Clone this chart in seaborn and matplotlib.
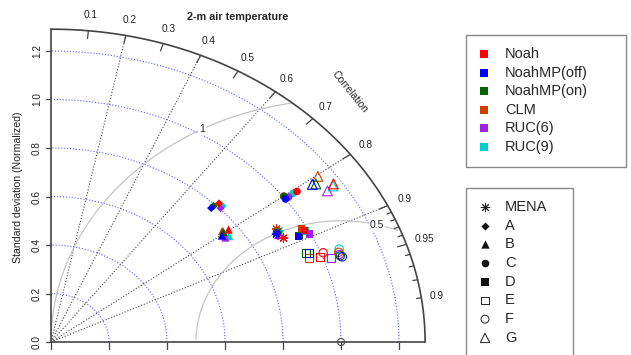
import numpy as np
import pandas as pd
import matplotlib
matplotlib.use("Agg")
import matplotlib.pyplot as plt
import seaborn as sns
from matplotlib.patches import Rectangle

# --- data: normalized standard deviation and correlation per model ---
models = ["Noah", "NoahMP(off)", "NoahMP(on)", "CLM", "RUC(6)", "RUC(9)"]
model_colors = ["#FF0000", "#0000FF", "#006400", "#CC4000", "#A020F0", "#00CDCD"]
regions = ["MENA", "A", "B", "C", "D", "E", "F", "G"]

mena_sd = [0.909, 0.896, 0.903, 0.907, 0.898, 0.910]
mena_r = [0.882, 0.868, 0.865, 0.858, 0.872, 0.864]
a_sd = [0.814, 0.781, 0.793, 0.790, 0.804, 0.815]
a_r = [0.712, 0.707, 0.707, 0.707, 0.727, 0.726]
b_sd = [0.768, 0.735, 0.748, 0.747, 0.740, 0.754]
b_r = [0.797, 0.802, 0.795, 0.790, 0.813, 0.815]
c_sd = [1.051, 1.001, 1.003, 1.003, 1.014, 1.035]
c_r = [0.807, 0.808, 0.801, 0.800, 0.808, 0.806]
d_sd = [0.988, 0.958, 0.961, 0.982, 0.997, 0.988]
d_r = [0.885, 0.891, 0.890, 0.880, 0.895, 0.886]
e_sd = [0.992, 0.963, 0.951, 0.954, 1.027, 0.992]
e_r = [0.935, 0.924, 0.923, 0.931, 0.941, 0.935]
f_sd = [1.008, 1.064, 1.059, 1.059, 1.058, 1.065]
f_r = [0.931, 0.944, 0.942, 0.937, 0.940, 0.933]
g_sd = [1.172, 1.111, 1.122, 1.146, 1.139, 1.166]
g_r = [0.831, 0.811, 0.814, 0.803, 0.837, 0.834]

sd_ticks = [0.0, 0.2, 0.4, 0.6, 0.8, 1.0, 1.2]
cor_lines = [0.2, 0.4, 0.6, 0.8, 0.9]
cor_labels = [0.1, 0.2, 0.3, 0.4, 0.5, 0.6, 0.7, 0.8, 0.9, 0.95, 0.99]
rms_levels = [0.5, 1.0]
ref_sd = 1.0
max_sd = 1.29

region_sd = [mena_sd, a_sd, b_sd, c_sd, d_sd, e_sd, f_sd, g_sd]
region_r = [mena_r, a_r, b_r, c_r, d_r, e_r, f_r, g_r]

rows = []
for reg, sds, rs in zip(regions, region_sd, region_r):
    for m, s, r in zip(models, sds, rs):
        rows.append({"region": reg, "model": m, "sd": s, "cor": r})
df = pd.DataFrame(rows)
df["x"] = df["sd"] * df["cor"]
df["y"] = df["sd"] * np.sqrt(1 - df["cor"] ** 2)

# marker, size, open?
region_style = {
    "MENA": ((8, 2, 0), 38, False),
    "A": ("D", 17, False),
    "B": ("^", 36, False),
    "C": ("o", 30, False),
    "D": ("s", 28, False),
    "E": ("s", 34, True),
    "F": ("o", 36, True),
    "G": ("^", 50, True),
}

sns.set_style("white")
plt.rcParams["font.family"] = ["Liberation Sans", "DejaVu Sans"]

fig = plt.figure(figsize=(6.31, 3.55), dpi=100)
ax = fig.add_axes([20 / 631, 0, 423 / 631, 1])
ax.set_xlim(-0.1069, 1.3517)
ax.set_ylim(-0.0536, 1.4103)
ax.axis("off")

axis_col = "#444444"
text_col = "#222222"

# standard deviation arcs
t = np.linspace(0, np.pi / 2, 200)
for s in sd_ticks[1:]:
    ax.plot(s * np.cos(t), s * np.sin(t), color="#4040ff", ls=":", lw=0.8, alpha=0.85)

# correlation rays
for r in cor_lines:
    ax.plot([0, max_sd * r], [0, max_sd * np.sqrt(1 - r ** 2)], color="#444444", ls=":", lw=0.8)

# centered RMS arcs (plotrix style)
tt = np.arange(0, np.pi, 0.03)
label_idx = [44, 69]
for g, li in zip(rms_levels, label_idx):
    xc = np.cos(tt) * g + ref_sd
    yc = np.sin(tt) * g
    ok = (xc ** 2 + yc ** 2 <= max_sd ** 2) & (xc >= 0)
    ax.plot(xc[ok], yc[ok], color="#c4c4c4", lw=0.9)
    ax.text(xc[li], yc[li], f"{g:g}", fontsize=7.5, ha="center", va="center", color=text_col,
            bbox=dict(boxstyle="square,pad=0.1", fc="white", ec="none"))

# outer arc and axes
ax.plot(max_sd * np.cos(t), max_sd * np.sin(t), color=axis_col, lw=1.2)
ax.plot([0, 0], [0, max_sd], color=axis_col, lw=1.2)
ax.plot([0, max_sd], [0, 0], color=axis_col, lw=1.2)

# correlation ticks
major = [0.1, 0.2, 0.3, 0.4, 0.5, 0.6, 0.7, 0.8, 0.9, 0.95]
minor = [0.91, 0.92, 0.93, 0.94, 0.96, 0.97, 0.98, 0.99]
for r, k in [(m, 0.975) for m in major] + [(m, 0.987) for m in minor]:
    c, s = r, np.sqrt(1 - r ** 2)
    ax.plot([max_sd * c, k * max_sd * c], [max_sd * s, k * max_sd * s], color=axis_col, lw=0.9)
for r in cor_labels:
    ax.text(1.05 * max_sd * r, 1.05 * max_sd * np.sqrt(1 - r ** 2), f"{r:g}",
            fontsize=7.3, ha="center", va="center", color=text_col, clip_on=True)
ax.text(0.8 * max_sd, 0.8 * max_sd, "Correlation", rotation=-51, fontsize=7.5,
        ha="center", va="center", rotation_mode="anchor", color=text_col)

# sd axis ticks and labels
for v in sd_ticks:
    ax.plot([0, -0.017], [v, v], color=axis_col, lw=0.9)
    ax.text(-0.049, v, f"{v:.1f}", rotation=90, fontsize=7.2, ha="center", va="center", color=text_col)
    ax.plot([v, v], [0, -0.029], color=axis_col, lw=0.9)

# reference point
ax.scatter([ref_sd], [0], marker="o", facecolors="none", edgecolors="#444444", s=26, lw=0.8, zorder=5)

# model points, drawn last model first so Noah sits on top
palette = dict(zip(models, model_colors))
for reg in regions:
    marker, size, hollow = region_style[reg]
    sub = df[df["region"] == reg].iloc[::-1]
    sns.scatterplot(data=sub, x="x", y="y", hue="model", hue_order=models, palette=palette,
                    marker=marker, s=size, linewidth=0, legend=False, ax=ax, zorder=4)
    coll = ax.collections[-1]
    fc = coll.get_facecolors()
    if hollow or reg == "MENA":
        coll.set_edgecolors(fc)
        coll.set_linewidths(0.8)
        if hollow:
            coll.set_facecolors("none")
ax.set_xlim(-0.1069, 1.3517)
ax.set_ylim(-0.0536, 1.4103)

# overlay in pixel units for title, y label and legends
lax = fig.add_axes([0, 0, 1, 1])
lax.set_xlim(0, 631)
lax.set_ylim(355, 0)
lax.axis("off")

lax.text(238, 17.5, "2-m air temperature", fontsize=7.8, fontweight="bold", ha="center", va="center")
lax.text(18, 187, "Standard deviation (Normalized)", rotation=90, fontsize=7.6, ha="center", va="center",
         color=text_col)

lax.add_patch(Rectangle((466, 35), 160, 132, fill=False, ec="#888888", lw=1))
for i, (m, c) in enumerate(zip(models, model_colors)):
    yy = 54 + i * 18.6
    lax.scatter(484, yy, marker="s", color=c, s=26, lw=0)
    lax.text(505, yy, m, fontsize=10.5, ha="left", va="center")

lax.add_patch(Rectangle((466, 188), 107, 190, fill=False, ec="#888888", lw=1))
for i, reg in enumerate(regions):
    marker, size, hollow = region_style[reg]
    yy = 207 + i * 18.7
    if hollow:
        lax.scatter(485, yy, marker=marker, facecolors="none", edgecolors="#222222", s=size * 0.9, lw=0.7)
    elif reg == "MENA":
        lax.scatter(485, yy, marker=marker, color="#222222", s=size, lw=0.7)
    else:
        lax.scatter(485, yy, marker=marker, color="#111111", s=size, lw=0)
    lax.text(505, yy, reg, fontsize=10.5, ha="left", va="center")

fig.savefig("out.png", dpi=100)
